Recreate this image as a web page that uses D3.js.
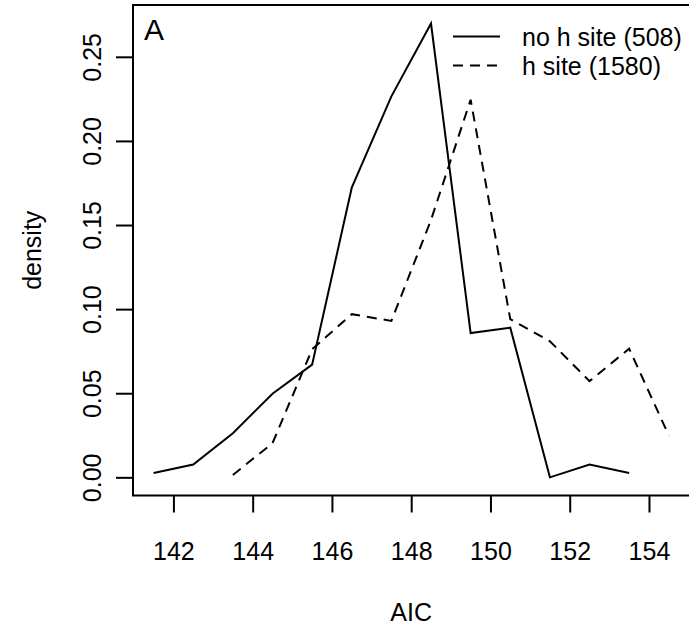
<!DOCTYPE html>
<html>
<head>
<meta charset="utf-8">
<script src="https://cdn.jsdelivr.net/npm/d3@7"></script>
<style>
  body{margin:0;background:#fff;}
  svg text{font-family:"Liberation Sans",Arial,sans-serif;fill:#000;}
</style>
</head>
<body>
<svg id="chart" width="689" height="630"></svg>
<script>
// AIC bin midpoints and densities
let noSiteX = [141.5,142.5,143.5,144.5,145.5,146.5,147.5,148.5,149.5,150.5,151.5,152.5,153.5];
let noSiteY = [0.0026,0.0076,0.0262,0.0497,0.0670,0.1722,0.2265,0.2698,0.0858,0.0890,0.0000,0.0076,0.0026];
let siteX = [143.5,144.5,145.5,146.5,147.5,148.5,149.5,150.5,151.5,152.5,153.5,154.5];
let siteY = [0.0014,0.0203,0.0761,0.0970,0.0930,0.1530,0.2245,0.0940,0.0809,0.0572,0.0765,0.0249];
let xTicks = [142,144,146,148,150,152,154];
let yTicks = [0,0.05,0.10,0.15,0.20,0.25];
let legendNames = ['no h site (508)','h site (1580)'];
let legendDash = [null,'10,7'];

function drawChart(target){
    let chart = d3.select(target);
    let left = 133, right = 689.4, top = 5, bottom = 495.5;
    // R style 4% padding on both axes
    let xmin = 141.5, xmax = 154.5, ymax = 0.27;
    let xpad = (xmax-xmin)*0.04, ypad = ymax*0.04;
    let x = d3.scaleLinear().domain([xmin-xpad, xmax+xpad]).range([left, right]);
    let y = d3.scaleLinear().domain([-ypad, ymax+ypad]).range([bottom, top]);

    let line = d3.line().x(d=>x(d[0])).y(d=>y(d[1]));
    let series = [d3.zip(noSiteX,noSiteY), d3.zip(siteX,siteY)];
    for(let i=0;i<series.length;i++){
        chart.append('path').datum(series[i]).attr('d', line)
        .attr('fill','none').attr('stroke','#000').attr('stroke-width',2)
        .attr('stroke-dasharray', legendDash[i]);
    }

    // axes
    let xa = chart.append('g').attr('transform',`translate(0,${bottom})`)
        .call(d3.axisBottom(x).tickValues(xTicks).tickSize(17).tickFormat(d3.format('d')));
    xa.select('.domain').remove();
    xa.selectAll('line').attr('stroke-width',2);
    xa.selectAll('text').attr('y',64.5).attr('dy',null).style('font-size','25px');

    let ya = chart.append('g').attr('transform',`translate(${left},0)`)
        .call(d3.axisLeft(y).tickValues(yTicks).tickSize(17).tickFormat(d3.format('.2f')));
    ya.select('.domain').remove();
    ya.selectAll('line').attr('stroke-width',2);
    ya.selectAll('text').attr('transform','rotate(-90)').attr('x',0).attr('y',-32)
        .attr('dy',null).attr('text-anchor','middle').style('font-size','25px');

    // box (right side falls just outside the page)
    chart.append('rect').attr('x',left).attr('y',top).attr('width',right-left+2).attr('height',bottom-top)
        .attr('fill','none').attr('stroke','#000').attr('stroke-width',2);

    // titles
    chart.append('text').attr('x',(left+right)/2).attr('y',621).attr('text-anchor','middle')
        .style('font-size','25px').text('AIC');
    chart.append('text').attr('transform',`translate(41,${(top+bottom)/2}) rotate(-90)`)
        .attr('text-anchor','middle').style('font-size','25px').text('density');
    chart.append('text').attr('x',144).attr('y',40).style('font-size','30px').text('A');

    // legend
    for(let i=0;i<legendNames.length;i++){
        let ly = 36.5 + i*29;
        chart.append('line').attr('x1',453).attr('x2',500).attr('y1',ly).attr('y2',ly)
            .attr('stroke','#000').attr('stroke-width',2).attr('stroke-dasharray',legendDash[i]);
        chart.append('text').attr('x',522).attr('y',ly).attr('dy','0.36em')
            .style('font-size','25px').text(legendNames[i]);
    }
}
drawChart('#chart');
</script>
</body>
</html>
